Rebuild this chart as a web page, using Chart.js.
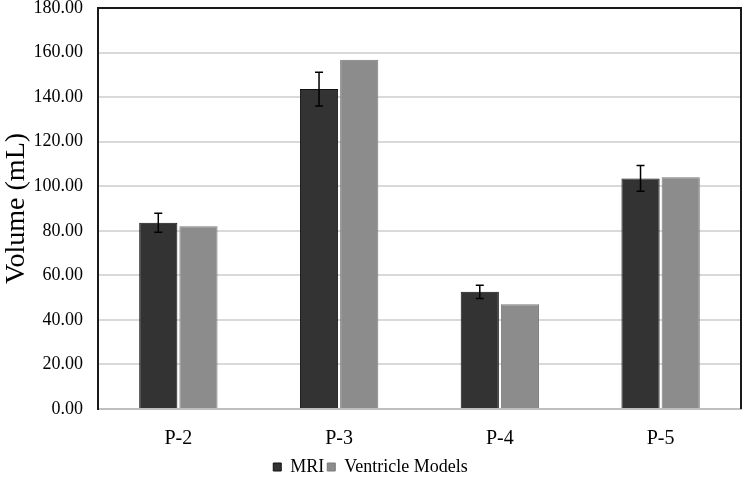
<!DOCTYPE html>
<html>
<head>
<meta charset="utf-8">
<script src="https://cdn.jsdelivr.net/npm/chart.js@4.4.0/dist/chart.umd.min.js"></script>
<style>
  html, body { margin: 0; padding: 0; background: #fff; }
  #wrap { width: 744px; height: 478px; position: relative; }
</style>
</head>
<body>
<div id="wrap"><canvas id="chart"></canvas></div>
<script>
const categories = ['P-2', 'P-3', 'P-4', 'P-5'];
const mriValues = [83.6, 143.6, 52.6, 103.5];
const mriErrors = [4.3, 7.6, 3.0, 5.8];
const modelValues = [82.0, 156.8, 47.0, 104.0];

const serif = "'Liberation Serif', 'Times New Roman', serif";

// Error bars for the MRI series + box around the plot
const extras = {
  id: 'extras',
  afterDatasetsDraw(chart) {
    const ctx = chart.ctx;
    const y = chart.scales.y;
    const meta = chart.getDatasetMeta(0);
    ctx.save();
    ctx.strokeStyle = '#000';
    ctx.lineWidth = 1.5;
    meta.data.forEach((bar, i) => {
      const top = y.getPixelForValue(mriValues[i] + mriErrors[i]);
      const bot = y.getPixelForValue(mriValues[i] - mriErrors[i]);
      ctx.beginPath();
      ctx.moveTo(bar.x, top); ctx.lineTo(bar.x, bot);
      ctx.moveTo(bar.x - 4, top); ctx.lineTo(bar.x + 4, top);
      ctx.moveTo(bar.x - 4, bot); ctx.lineTo(bar.x + 4, bot);
      ctx.stroke();
    });
    const a = chart.chartArea;
    ctx.strokeStyle = '#1a1a1a';
    ctx.lineWidth = 2;
    ctx.beginPath();
    ctx.moveTo(a.left, a.top); ctx.lineTo(a.right, a.top); ctx.lineTo(a.right, a.bottom);
    ctx.stroke();
    ctx.restore();
  }
};

new Chart(document.getElementById('chart').getContext('2d'), {
  type: 'bar',
  data: {
    labels: categories,
    datasets: [
      {
        label: 'MRI',
        data: mriValues,
        backgroundColor: '#333333',
        borderColor: '#111111',
        borderWidth: 1,
        categoryPercentage: 0.5,
        barPercentage: 0.95,
      },
      {
        label: 'Ventricle Models',
        data: modelValues,
        backgroundColor: '#8c8c8c',
        borderColor: '#7a7a7a',
        borderWidth: 1,
        categoryPercentage: 0.5,
        barPercentage: 0.95,
      },
    ],
  },
  options: {
    responsive: true,
    maintainAspectRatio: false,
    animation: false,
    layout: { padding: { top: 8, right: 3, left: 0, bottom: -8 } },
    plugins: {
      legend: {
        position: 'bottom',
        labels: {
          color: '#000',
          font: { family: serif, size: 18 },
          boxWidth: 8,
          boxHeight: 8,
          padding: 3,
        },
      },
      tooltip: { enabled: false },
    },
    scales: {
      x: {
        afterFit(scale) { scale.height = 46; scale.paddingLeft = 0; scale.paddingRight = 0; },
        grid: { display: false },
        border: { display: true, color: '#bfbfbf', width: 2 },
        ticks: { color: '#000', font: { family: serif, size: 20 }, padding: 10 },
      },
      y: {
        min: 0,
        max: 180,
        afterFit(scale) { scale.width = 98; scale.paddingTop = 0; scale.paddingBottom = 0; },
        grid: { color: '#d9d9d9', lineWidth: 2, drawTicks: false },
        border: { display: true, color: '#1a1a1a', width: 2 },
        ticks: {
          stepSize: 20,
          color: '#000',
          font: { family: serif, size: 18 },
          padding: 15,
          callback: (v) => v.toFixed(2),
        },
        title: {
          display: true,
          text: 'Volume (mL)',
          color: '#000',
          font: { family: serif, size: 28 },
          padding: 0,
        },
      },
    },
  },
  plugins: [extras],
});
</script>
</body>
</html>
